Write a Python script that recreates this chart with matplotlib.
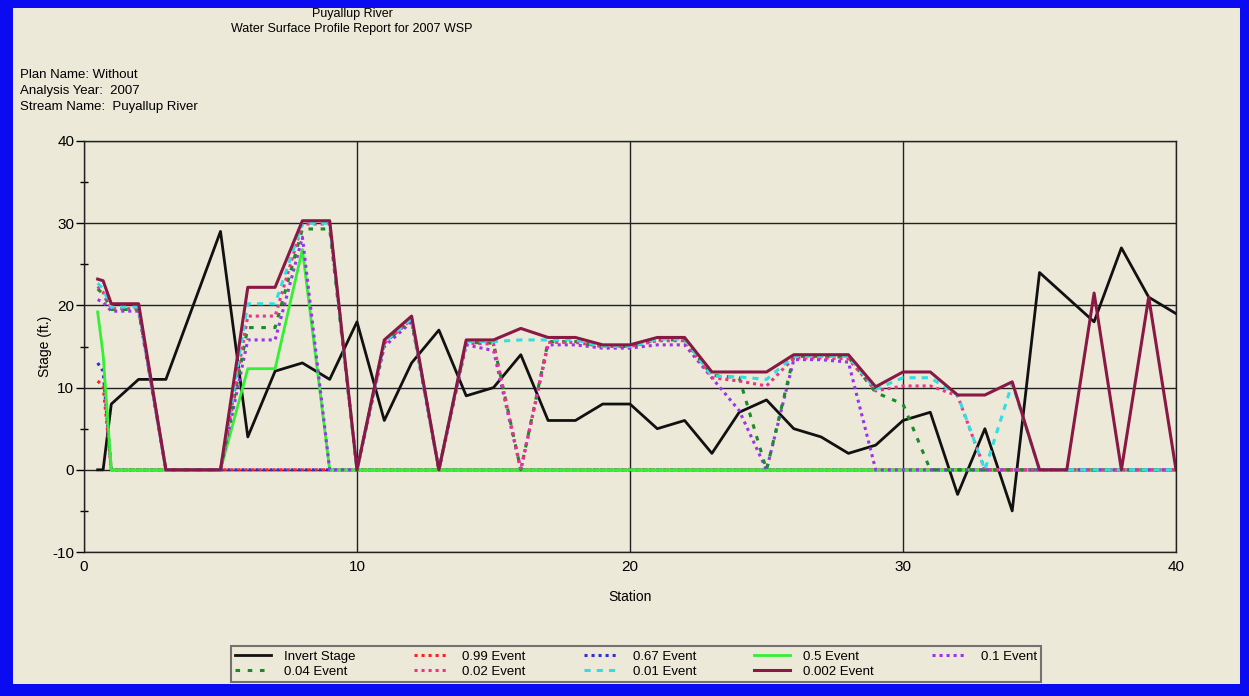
import numpy as np
import matplotlib
matplotlib.use('Agg')
import matplotlib.pyplot as plt
from matplotlib.patches import Rectangle
from matplotlib.ticker import MultipleLocator

plt.rcParams['font.family'] = ['Liberation Sans', 'DejaVu Sans']
plt.rcParams['axes.unicode_minus'] = False

# station positions along the river
stations = [0.5, 0.7, 1, 2, 3, 4, 5, 6, 7, 8, 9, 10, 11, 12, 13, 14, 15, 16, 17, 18,
            19, 20, 21, 22, 23, 24, 25, 26, 27, 28, 29, 30, 31, 32, 33, 34, 35, 36,
            37, 38, 39, 40]

invert = [0, 0, 8, 11, 11, 20, 29, 4, 12, 13, 11, 18, 6, 13, 17, 9, 10, 14, 6, 6,
          8, 8, 5, 6, 2, 7, 8.5, 5, 4, 2, 3, 6, 7, -3, 5, -5, 24, 21, 18, 27, 21, 19]

ev_099 = [10.8, 10.2, 0, 0, 0, 0, 0, 0, 0, 0, 0, 0, 0, 0, 0, 0, 0, 0, 0, 0,
          0, 0, 0, 0, 0, 0, 0, 0, 0, 0, 0, 0, 0, 0, 0, 0, 0, 0, 0, 0, 0, 0]

ev_067 = [13.0, 12.0, 0, 0, 0, 0, 0, 0, 0, 0, 0, 0, 0, 0, 0, 0, 0, 0, 0, 0,
          0, 0, 0, 0, 0, 0, 0, 0, 0, 0, 0, 0, 0, 0, 0, 0, 0, 0, 0, 0, 0, 0]

ev_05 = [19.2, 14.0, 0, 0, 0, 0, 0, 12.3, 12.3, 26.8, 0, 0, 0, 0, 0, 0, 0, 0, 0, 0,
         0, 0, 0, 0, 0, 0, 0, 0, 0, 0, 0, 0, 0, 0, 0, 0, 0, 0, 0, 0, 0, 0]

ev_01 = [20.7, 20.4, 19.3, 19.3, 0, 0, 0, 15.8, 15.8, 28.3, 0, 0, 15.0, 18.0, 0,
         15.2, 14.5, 0, 15.2, 15.2, 14.8, 14.8, 15.2, 15.2, 11.2, 7.2, 0, 13.4,
         13.4, 13.1, 0, 0, 0, 0, 0, 0, 0, 0, 0, 0, 0, 0]

ev_004 = [22.0, 21.4, 19.5, 19.5, 0, 0, 0, 17.3, 17.3, 29.3, 29.3, 0, 15.4, 18.3,
          0, 15.5, 15.4, 0, 15.6, 15.6, 15.0, 15.0, 15.8, 15.8, 11.5, 11.2, 0,
          13.8, 13.8, 13.7, 9.4, 8.0, 0, 0, 0, 0, 0, 0, 0, 0, 0, 0]

ev_002 = [22.3, 21.6, 19.6, 19.6, 0, 0, 0, 18.7, 18.7, 29.9, 29.9, 0, 15.4, 18.3,
          0, 15.4, 15.3, 0, 15.5, 15.5, 15.0, 15.0, 15.7, 15.7, 11.2, 10.8, 10.2,
          13.6, 13.6, 13.5, 9.6, 10.2, 10.2, 9.0, 0, 0, 0, 0, 0, 0, 0, 0]

ev_001 = [22.7, 22.0, 19.8, 19.8, 0, 0, 0, 20.2, 20.2, 30.0, 30.0, 0, 15.5, 18.4,
          0, 15.6, 15.6, 15.8, 15.8, 15.8, 15.0, 15.0, 15.9, 15.9, 11.4, 11.3,
          11.0, 13.8, 13.8, 13.8, 9.8, 11.2, 11.2, 9.1, 0, 10.5, 0, 0, 0, 0, 0, 0]

ev_0002 = [23.2, 23.0, 20.2, 20.2, 0, 0, 0, 22.2, 22.2, 30.3, 30.3, 0, 15.8, 18.7,
           0, 15.8, 15.8, 17.2, 16.1, 16.1, 15.2, 15.2, 16.1, 16.1, 11.9, 11.9,
           11.9, 14.0, 14.0, 14.0, 10.1, 11.9, 11.9, 9.1, 9.1, 10.7, 0, 0, 21.5,
           0, 21.0, 0]

bg = '#ECE9D8'
dot = (0, (1, 1.3))

fig = plt.figure(figsize=(12.49, 6.96), dpi=100, facecolor='#0B0BF2')
fig.add_artist(Rectangle((13 / 1249, 12 / 696), 1227 / 1249, 676 / 696,
                         transform=fig.transFigure, facecolor=bg,
                         edgecolor='none', zorder=0))

ax = fig.add_axes([84 / 1249, 144 / 696, 1092 / 1249, 411 / 696])
ax.set_facecolor(bg)

h = {}
h['inv'], = ax.plot(stations, invert, color='#111111', lw=2, label='Invert Stage')
h['099'], = ax.plot(stations, ev_099, color='#FF2020', lw=2.2, ls=dot, label='0.99 Event')
h['067'], = ax.plot(stations, ev_067, color='#3030D0', lw=2.2, ls=dot, label='0.67 Event')
h['05'], = ax.plot(stations, ev_05, color='#33F033', lw=2, label='0.5 Event')
h['01'], = ax.plot(stations, ev_01, color='#9933EE', lw=2.2, ls=dot, label='0.1 Event')
h['004'], = ax.plot(stations, ev_004, color='#1A8A2A', lw=2.2, ls=(0, (1.5, 2.5)), label='0.04 Event')
h['002'], = ax.plot(stations, ev_002, color='#F0308A', lw=2.2, ls=dot, label='0.02 Event')
h['001'], = ax.plot(stations, ev_001, color='#30E0E0', lw=2.2, ls=(0, (2, 2)), label='0.01 Event')
h['0002'], = ax.plot(stations, ev_0002, color='#8A1845', lw=2.2, label='0.002 Event')

ax.set_xlim(0, 40)
ax.set_ylim(-10, 40)
ax.xaxis.set_major_locator(MultipleLocator(10))
ax.yaxis.set_major_locator(MultipleLocator(10))
ax.yaxis.set_minor_locator(MultipleLocator(5))
ax.grid(True, which='major', color='#222222', lw=1)
ax.tick_params(axis='y', which='major', direction='out', length=6, width=1, labelsize=11, pad=1)
ax.tick_params(axis='y', which='minor', direction='inout', length=6, width=1)
ax.tick_params(axis='x', which='major', direction='out', length=0, labelsize=11, pad=6)
for s in ax.spines.values():
    s.set_color('#222222')
    s.set_linewidth(1)

ax.set_xlabel('Station', fontsize=10, labelpad=11)
ax.set_ylabel('Stage (ft.)', fontsize=10, labelpad=0)

fig.text(352 / 1249, 1 - 14 / 696, 'Puyallup River', ha='center', va='center', fontsize=9)
fig.text(352 / 1249, 1 - 29 / 696, 'Water Surface Profile Report for 2007 WSP',
         ha='center', va='center', fontsize=9)
fig.text(20 / 1249, 1 - 75 / 696, 'Plan Name: Without', ha='left', va='center', fontsize=9.5)
fig.text(20 / 1249, 1 - 91 / 696, 'Analysis Year:  2007', ha='left', va='center', fontsize=9.5)
fig.text(20 / 1249, 1 - 107 / 696, 'Stream Name:  Puyallup River', ha='left', va='center', fontsize=9.5)

order = ['inv', '004', '099', '002', '067', '001', '05', '0002', '01']
handles = [h[k] for k in order]
leg = fig.legend(handles, [x.get_label() for x in handles], ncol=5,
                 loc='center', bbox_to_anchor=(636 / 1249, 1 - 664 / 696),
                 fontsize=9.5, frameon=True, fancybox=False, handlelength=2.7,
                 handletextpad=1.0, columnspacing=4.4, labelspacing=0.2,
                 borderpad=0.3)
leg.get_frame().set_facecolor(bg)
leg.get_frame().set_edgecolor('#555555')
leg.get_frame().set_linewidth(1.5)

fig.savefig('out.png', dpi=100, facecolor=fig.get_facecolor())
